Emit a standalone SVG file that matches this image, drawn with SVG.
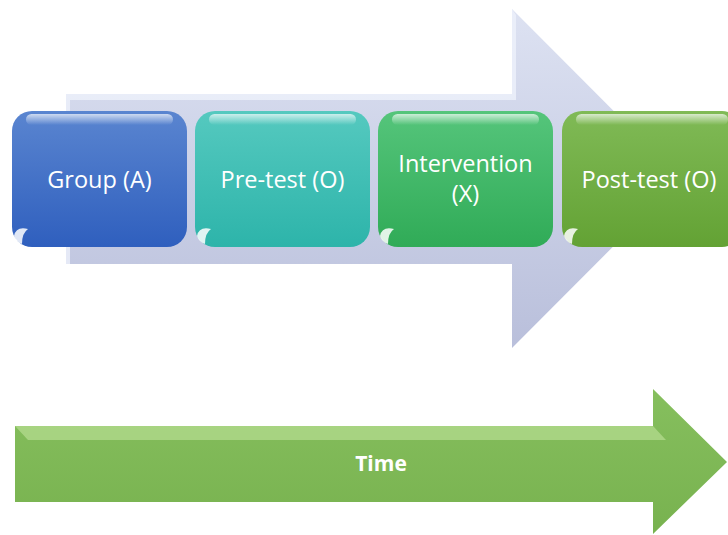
<svg xmlns="http://www.w3.org/2000/svg" width="728" height="535" viewBox="0 0 728 535">
<defs>
<linearGradient id="gBig" x1="0" y1="0" x2="0" y2="1"><stop offset="0" stop-color="#dde2f2"/><stop offset="1" stop-color="#b9bfdb"/></linearGradient>
<linearGradient id="gBlue" x1="0" y1="0" x2="0" y2="1"><stop offset="0" stop-color="#5a85d0"/><stop offset="1" stop-color="#2f5fbe"/></linearGradient>
<linearGradient id="gTeal" x1="0" y1="0" x2="0" y2="1"><stop offset="0" stop-color="#55c9bf"/><stop offset="1" stop-color="#2db4aa"/></linearGradient>
<linearGradient id="gGreen" x1="0" y1="0" x2="0" y2="1"><stop offset="0" stop-color="#55c57b"/><stop offset="1" stop-color="#30ab57"/></linearGradient>
<linearGradient id="gOlive" x1="0" y1="0" x2="0" y2="1"><stop offset="0" stop-color="#80ba56"/><stop offset="1" stop-color="#63a234"/></linearGradient>
<linearGradient id="gTime" x1="0" y1="0" x2="0" y2="1"><stop offset="0" stop-color="#86bf5e"/><stop offset="1" stop-color="#78b24f"/></linearGradient>
<linearGradient id="gShine" x1="0" y1="0" x2="0" y2="1"><stop offset="0" stop-color="#ffffff" stop-opacity="0.7"/><stop offset="1" stop-color="#ffffff" stop-opacity="0"/></linearGradient>
</defs>
<style>
.lbl{font-family:"Open Sans","Noto Sans",sans-serif;font-size:23.5px;fill:#ffffff;text-anchor:middle}
.shine{fill:url(#gShine)}
.spot{fill:#ffffff;opacity:0.85}
</style>
<g id="process-arrow">
<path d="M66,94 L512,94 L512,9 L681,178.5 L512,348 L512,264 L66,264 Z" fill="url(#gBig)"/>
<path d="M66,94 L512,94 L512,9 L516,15 L516,100 L70,100 L70,264 L66,264 Z" fill="#eef1fb" opacity="0.8"/>
</g>
<g id="node-group">
<rect x="12" y="111" width="175" height="136" rx="20" fill="url(#gBlue)"/>
<rect class="shine" x="26" y="114" width="147" height="11" rx="5.5"/>
<path class="spot" d="M14,236 Q16,226 28,229 Q22,233 22,244 Q16,242 14,236 Z"/>
<text class="lbl" x="99.5" y="188">Group (A)</text>
</g>
<g id="node-pretest">
<rect x="195" y="111" width="175" height="136" rx="20" fill="url(#gTeal)"/>
<rect class="shine" x="209" y="114" width="147" height="11" rx="5.5"/>
<path class="spot" d="M197,236 Q199,226 211,229 Q205,233 205,244 Q199,242 197,236 Z"/>
<text class="lbl" x="282.5" y="188">Pre-test (O)</text>
</g>
<g id="node-intervention">
<rect x="378" y="111" width="175" height="136" rx="20" fill="url(#gGreen)"/>
<rect class="shine" x="392" y="114" width="147" height="11" rx="5.5"/>
<path class="spot" d="M380,236 Q382,226 394,229 Q388,233 388,244 Q382,242 380,236 Z"/>
<text class="lbl" x="465.5" y="172">Intervention</text>
<text class="lbl" x="465.5" y="202">(X)</text>
</g>
<g id="node-posttest">
<rect x="562" y="111" width="180" height="136" rx="20" fill="url(#gOlive)"/>
<rect class="shine" x="576" y="114" width="152" height="11" rx="5.5"/>
<path class="spot" d="M564,236 Q566,226 578,229 Q572,233 572,244 Q566,242 564,236 Z"/>
<text class="lbl" x="649" y="188">Post-test (O)</text>
</g>
<g id="time-arrow">
<path d="M15,426 L653,426 L653,389 L727,462 L653,534 L653,502 L15,502 Z" fill="url(#gTime)"/>
<path d="M15,426 L653,426 L666,440 L28,440 Z" fill="#c7e8a2" opacity="0.55"/>
<text x="381" y="471" style="font-family:'Open Sans','Noto Sans',sans-serif;font-size:21px;font-weight:bold;fill:#ffffff;text-anchor:middle">Time</text>
</g>
</svg>
